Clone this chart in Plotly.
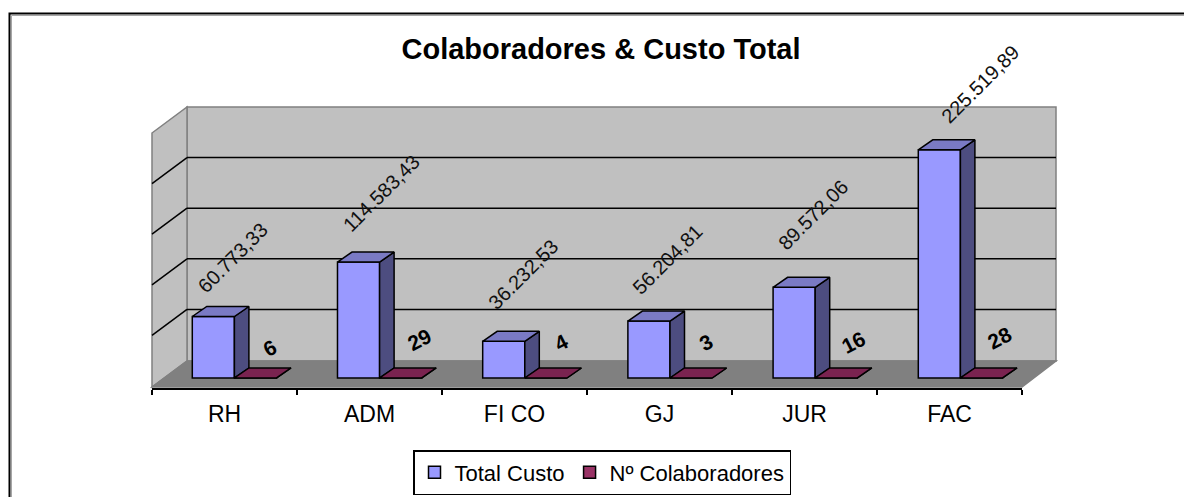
# Colaboradores & Custo Total - grafico de colunas 3D estilo Excel
import plotly.graph_objects as go

W, H = 1184, 497

# ------------------------------------------------------------
# Dados
# ------------------------------------------------------------
categorias = ["RH", "ADM", "FI CO", "GJ", "JUR", "FAC"]
total_custo = [60773.33, 114583.43, 36232.53, 56204.81, 89572.06, 225519.89]
n_colaboradores = [6, 29, 4, 3, 16, 28]
ticks_valor = [0, 50000, 100000, 150000, 200000, 250000]

# deslocamento (px) dos rotulos em relacao ao topo da coluna
desloc_custo = [(19, -59), (23, -69), (20, -67), (19, -62), (19, -72), (41, -66)]
desloc_colab = [(15, -30), (19, -38), (15, -36), (15, -36), (17, -35), (19, -40)]

# ------------------------------------------------------------
# Geometria
# ------------------------------------------------------------
PX_POR_VALOR = 1.012 / 1000
X0_PX, UNID_PX = 234.4, 145.2   # centro do grupo RH e largura da categoria
Y0_PX = 378                     # base das colunas
BARGAP = 0.42
LARG = (1 - BARGAP) / 2
PROF_X = 14.5 / UNID_PX
PROF_Y = 10 / PX_POR_VALOR


def xp(px):
    return px / W


def yp(py):
    return 1 - py / H


def valor_parede(v):
    # a parede do fundo fica 18 px acima do plano das colunas
    return v + 18 / PX_POR_VALOR


def fmt_pt(v):
    return f"{v:,.2f}".replace(",", "#").replace(".", ",").replace("#", ".")


def faces(esquerda, valores):
    lado_x, lado_y, topo_x, topo_y = [], [], [], []
    for e, v in zip(esquerda, valores):
        d = e + LARG
        lado_x += [d, d + PROF_X, d + PROF_X, d, d, None]
        lado_y += [0, PROF_Y, v + PROF_Y, v, 0, None]
        topo_x += [e, e + PROF_X, d + PROF_X, d, e, None]
        topo_y += [v, v + PROF_Y, v + PROF_Y, v, v, None]
    return lado_x, lado_y, topo_x, topo_y


posicoes = list(range(len(categorias)))
fig = go.Figure()

# ------------------------------------------------------------
# Colunas (face frontal)
# ------------------------------------------------------------
fig.add_trace(go.Bar(x=posicoes, y=total_custo, name="Total Custo",
                     marker=dict(color="#9999FF", line=dict(color="black", width=1.5))))
fig.add_trace(go.Bar(x=posicoes, y=n_colaboradores, name="Nº Colaboradores",
                     marker=dict(color="#993366", line=dict(color="black", width=1.5))))

# ------------------------------------------------------------
# Faces lateral e superior
# ------------------------------------------------------------
series = [
    ([p - LARG for p in posicoes], total_custo, "#4D4D80", "#7A7AC4"),
    (posicoes, n_colaboradores, "#4D1A33", "#7A2350"),
]
for esquerda, valores, cor_lado, cor_topo in series:
    lx, ly, tx, ty = faces(esquerda, valores)
    for fx, fy, cor in [(lx, ly, cor_lado), (tx, ty, cor_topo)]:
        fig.add_trace(go.Scatter(x=fx, y=fy, mode="lines", fill="toself", fillcolor=cor,
                                 line=dict(color="black", width=1.5),
                                 showlegend=False, hoverinfo="skip"))

# eixo das categorias, no plano frontal do chao
fig.add_trace(go.Scatter(x=categorias, y=[0] * len(categorias), mode="none",
                         xaxis="x2", yaxis="y2", showlegend=False, hoverinfo="skip"))

# ------------------------------------------------------------
# Paredes, chao e moldura
# ------------------------------------------------------------
def poligono(pontos, cor, linha=None):
    caminho = "M" + "L".join(f"{xp(a)},{yp(b)}" for a, b in pontos) + "Z"
    return dict(type="path", path=caminho, xref="paper", yref="paper", layer="below",
                fillcolor=cor, line=dict(color=linha or cor, width=1.5))


shapes = [
    poligono([(187, 107), (1056, 107), (1056, 361), (187, 361)], "#C0C0C0", "#808080"),
    poligono([(152, 133), (187, 107), (187, 361), (152, 387)], "#C0C0C0", "#808080"),
    poligono([(152, 387), (187, 361), (1056, 361), (1022, 387)], "#808080"),
]
for v in ticks_valor[1:-1]:
    # grade na parede do fundo e na parede esquerda
    vp = valor_parede(v)
    shapes.append(dict(type="line", xref="paper", yref="y", layer="below",
                       x0=xp(187), x1=xp(1056), y0=vp, y1=vp,
                       line=dict(color="black", width=1.5)))
    shapes.append(dict(type="line", xref="paper", yref="y", layer="below",
                       x0=xp(187), x1=xp(152), y0=vp, y1=vp - 26 / PX_POR_VALOR,
                       line=dict(color="black", width=1.5)))
# moldura: so topo e esquerda, com filete cinza por dentro
for deslocamento, cor, espessura in [(2, "#A6A6A6", 1), (0, "black", 2)]:
    x_m, y_m = 9.5 + deslocamento, 13.5 + deslocamento
    shapes.append(dict(type="path", xref="paper", yref="paper", layer="below",
                       path=f"M{xp(x_m)},0L{xp(x_m)},{yp(y_m)}L1,{yp(y_m)}",
                       line=dict(color=cor, width=espessura)))

# ------------------------------------------------------------
# Rotulos
# ------------------------------------------------------------
anotacoes = []
for p, v, (dx, dy) in zip(posicoes, total_custo, desloc_custo):
    anotacoes.append(dict(x=p - LARG / 2, y=v, text=fmt_pt(v), textangle=-45, showarrow=False,
                          xshift=dx, yshift=-dy, font=dict(size=20, color="#111111")))
for p, v, (dx, dy) in zip(posicoes, n_colaboradores, desloc_colab):
    anotacoes.append(dict(x=p + LARG / 2, y=v, text=str(v), textangle=-27, showarrow=False,
                          xshift=dx, yshift=-dy, font=dict(size=21, color="black", weight="bold")))

fig.update_layout(
    width=W, height=H, autosize=False,
    margin=dict(l=0, r=0, t=0, b=0),
    paper_bgcolor="white", plot_bgcolor="rgba(0,0,0,0)",
    font=dict(family="Liberation Sans, Arial, sans-serif", color="black"),
    barmode="group", bargap=BARGAP, bargroupgap=0,
    title=dict(text="<b>Colaboradores & Custo Total</b>", x=601 / W, xanchor="center",
               y=yp(49), yanchor="middle", font=dict(size=29)),
    xaxis=dict(domain=[xp(X0_PX - UNID_PX / 2), xp(X0_PX + 5.5 * UNID_PX)], range=[-0.5, 5.5],
               visible=False, anchor="y"),
    yaxis=dict(domain=[yp(388), yp(80)], range=[-10 / PX_POR_VALOR, (Y0_PX - 80) / PX_POR_VALOR],
               visible=False, anchor="x"),
    xaxis2=dict(domain=[xp(152), xp(1022)], type="category", categoryorder="array",
                categoryarray=categorias, range=[-0.5, 5.5], tickson="boundaries",
                ticks="outside", ticklen=5, tickcolor="black", tickwidth=1.5,
                showline=True, linecolor="black", linewidth=1.5, showgrid=False,
                zeroline=False, anchor="y2", tickfont=dict(size=23), ticklabelstandoff=5),
    yaxis2=dict(domain=[yp(388), yp(380)], visible=False, anchor="x2"),
    legend=dict(orientation="h", x=413 / W, xanchor="left", y=yp(495), yanchor="bottom",
                bgcolor="white", bordercolor="black", borderwidth=1.5, font=dict(size=22)),
    shapes=shapes,
    annotations=anotacoes,
)

fig.write_html("out.html", config={"displayModeBar": False},
               post_script="document.body.style.margin='0';document.documentElement.style.overflow='hidden';")
